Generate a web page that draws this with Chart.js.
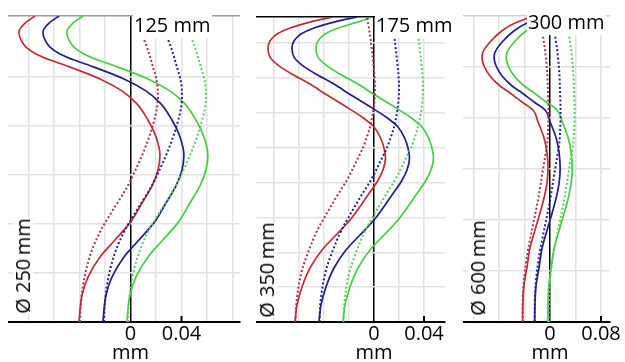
<!DOCTYPE html>
<html><head><meta charset="utf-8">
<script src="https://cdn.jsdelivr.net/npm/chart.js"></script>
<style>
html,body{margin:0;padding:0;background:#fff;}
#wrap{position:relative;width:625px;height:362px;overflow:hidden;background:#fff;font-family:'Open Sans',sans-serif;}
canvas{position:absolute;top:0;}
.lbl{position:absolute;background:#fff;color:#000;font-size:20px;line-height:20px;padding:1px 1px 3px 1px;white-space:nowrap;z-index:3;}
.vlbl{position:absolute;background:#fff;color:#000;font-size:20px;line-height:20px;white-space:nowrap;z-index:3;transform:translate(-50%,-50%) rotate(-90deg);}
</style></head>
<body><div id="wrap">
<canvas id="c1"></canvas><canvas id="c2"></canvas><canvas id="c3"></canvas>
<div class="lbl" id="t1"></div><div class="lbl" id="t2"></div><div class="lbl" id="t3"></div>
<div class="vlbl" id="v1"></div><div class="vlbl" id="v2"></div><div class="vlbl" id="v3"></div>
</div>
<script>
// ---------- data: [deviation (mm), height (mm)] ----------
const p1RedSolid   = [[-0.0749,125],[-0.0827,122.1],[-0.0875,118.5],[-0.0859,115.2],[-0.082,112.3],[-0.0741,109.5],[-0.0631,107],[-0.0498,104.6],[-0.0239,99.3],[-0.0067,94.4],[0.0051,89.1],[0.0137,82.5],[0.02,75.6],[0.0231,68.2],[0.0216,62.1],[0.0169,55.6],[0.009,48.6],[0,40.8],[-0.0122,33.5],[-0.0239,26.6],[-0.0333,18.4],[-0.038,11],[-0.0396,4.9],[-0.0404,0]];
const p1BlueSolid  = [[-0.0561,125],[-0.0639,122.1],[-0.0687,118.5],[-0.0671,115.2],[-0.0632,112.3],[-0.0553,109.5],[-0.0443,107],[-0.031,104.6],[-0.0051,99.3],[0.0121,94.4],[0.0239,89.1],[0.0325,82.5],[0.0388,75.6],[0.0419,68.2],[0.0404,62.1],[0.0357,55.6],[0.0278,48.6],[0.0188,40.8],[0.0066,33.5],[-0.0051,26.6],[-0.0145,18.4],[-0.0192,11],[-0.0208,4.9],[-0.0216,0]];
const p1GreenSolid = [[-0.0373,125],[-0.0451,122.1],[-0.0499,118.5],[-0.0483,115.2],[-0.0444,112.3],[-0.0365,109.5],[-0.0255,107],[-0.0122,104.6],[0.0137,99.3],[0.0309,94.4],[0.0427,89.1],[0.0513,82.5],[0.0576,75.6],[0.0607,68.2],[0.0592,62.1],[0.0545,55.6],[0.0466,48.6],[0.0376,40.8],[0.0254,33.5],[0.0137,26.6],[0.0043,18.4],[-0.0004,11],[-0.002,4.9],[-0.0028,0]];
const p1RedDot     = [[0.0075,125],[0.009,118.1],[0.0137,111.1],[0.0176,104.2],[0.0208,98],[0.0216,92.7],[0.0208,87.4],[0.0176,80.5],[0.0129,73.1],[0.0075,66.2],[-0.0027,55.1],[-0.0137,45.8],[-0.0231,37.6],[-0.0302,29.4],[-0.0349,21.2],[-0.038,12.3],[-0.0392,5.7],[-0.0396,0]];
const p1BlueDot    = [[0.0263,125],[0.0278,118.1],[0.0325,111.1],[0.0364,104.2],[0.0396,98],[0.0404,92.7],[0.0396,87.4],[0.0364,80.5],[0.0317,73.1],[0.0263,66.2],[0.0161,55.1],[0.0051,45.8],[-0.0043,37.6],[-0.0114,29.4],[-0.0161,21.2],[-0.0192,12.3],[-0.0204,5.7],[-0.0208,0]];
const p1GreenDot   = [[0.0451,125],[0.0466,118.1],[0.0513,111.1],[0.0552,104.2],[0.0584,98],[0.0592,92.7],[0.0584,87.4],[0.0552,80.5],[0.0505,73.1],[0.0451,66.2],[0.0349,55.1],[0.0239,45.8],[0.0145,37.6],[0.0074,29.4],[0.0027,21.2],[-0.0004,12.3],[-0.0016,5.7],[-0.002,0]];

const p2RedSolid   = [[-0.0328,175],[-0.0512,172.1],[-0.0672,168.7],[-0.0776,165.2],[-0.0832,161.2],[-0.0848,157.2],[-0.0832,152],[-0.0768,147.4],[-0.0672,142.9],[-0.0512,136.5],[-0.0376,130.2],[-0.0232,123.9],[-0.0096,117.6],[0,111.9],[0.0056,105],[0.008,99.8],[0.0092,94.1],[0.0072,87.2],[0.0024,80.3],[-0.0048,72.9],[-0.0192,58.5],[-0.0304,49.9],[-0.0416,41.3],[-0.0512,31],[-0.0576,20.1],[-0.0616,9.8],[-0.0632,0]];
const p2BlueSolid  = [[-0.0136,175],[-0.032,172.1],[-0.048,168.7],[-0.0584,165.2],[-0.064,161.2],[-0.0656,157.2],[-0.064,152],[-0.0576,147.4],[-0.048,142.9],[-0.032,136.5],[-0.0184,130.2],[-0.004,123.9],[0.0096,117.6],[0.0192,111.9],[0.0248,105],[0.0272,99.8],[0.0284,94.1],[0.0264,87.2],[0.0216,80.3],[0.0144,72.9],[0,58.5],[-0.0112,49.9],[-0.0224,41.3],[-0.032,31],[-0.0384,20.1],[-0.0424,9.8],[-0.044,0]];
const p2GreenSolid = [[-0.002,175],[-0.0128,172.1],[-0.0288,168.7],[-0.0392,165.2],[-0.0448,161.2],[-0.0464,157.2],[-0.0448,152],[-0.0384,147.4],[-0.0288,142.9],[-0.0128,136.5],[0.0008,130.2],[0.0152,123.9],[0.0288,117.6],[0.0384,111.9],[0.044,105],[0.0464,99.8],[0.0476,94.1],[0.0456,87.2],[0.0408,80.3],[0.0336,72.9],[0.0192,58.5],[0.008,49.9],[-0.0032,41.3],[-0.0128,31],[-0.0192,20.1],[-0.0232,9.8],[-0.0248,0]];
const p2RedDot     = [[-0.0056,175],[-0.0032,164.7],[-0.0008,150.3],[0.0008,134.8],[0,124.5],[-0.0032,111.9],[-0.008,101.5],[-0.0136,92.9],[-0.0216,81.5],[-0.0296,72.3],[-0.0376,62.5],[-0.0456,52.2],[-0.052,41.3],[-0.0576,29.8],[-0.0608,18.4],[-0.0624,8],[-0.0628,0]];
const p2BlueDot    = [[0.0136,175],[0.016,164.7],[0.0184,150.3],[0.02,134.8],[0.0192,124.5],[0.016,111.9],[0.0112,101.5],[0.0056,92.9],[-0.0024,81.5],[-0.0104,72.3],[-0.0184,62.5],[-0.0264,52.2],[-0.0328,41.3],[-0.0384,29.8],[-0.0416,18.4],[-0.0432,8],[-0.0436,0]];
const p2GreenDot   = [[0.0328,175],[0.0352,164.7],[0.0376,150.3],[0.0392,134.8],[0.0384,124.5],[0.0352,111.9],[0.0304,101.5],[0.0248,92.9],[0.0168,81.5],[0.0088,72.3],[0.0008,62.5],[-0.0072,52.2],[-0.0136,41.3],[-0.0192,29.8],[-0.0224,18.4],[-0.024,8],[-0.0244,0]];

const p3RedSolid   = [[-0.0267,300],[-0.0345,298],[-0.0549,293.1],[-0.0737,286.3],[-0.0941,274.5],[-0.1051,264.7],[-0.1067,258.8],[-0.1035,251],[-0.0941,241.2],[-0.0784,231.4],[-0.0627,224.5],[-0.0439,215.7],[-0.0267,207.8],[-0.0188,196.1],[-0.0094,180.4],[-0.0047,165.7],[-0.0031,151],[-0.0047,136.3],[-0.0094,121.6],[-0.0157,106.9],[-0.0235,90.2],[-0.0314,72.5],[-0.0361,53.9],[-0.0408,36.3],[-0.0424,21.6],[-0.0431,0]];
const p3BlueSolid  = [[-0.0077,300],[-0.0155,298],[-0.0359,293.1],[-0.0547,286.3],[-0.0751,274.5],[-0.0861,264.7],[-0.0877,258.8],[-0.0845,251],[-0.0751,241.2],[-0.0594,231.4],[-0.0437,224.5],[-0.0249,215.7],[-0.0077,207.8],[0.0002,196.1],[0.0096,180.4],[0.0143,165.7],[0.0159,151],[0.0143,136.3],[0.0096,121.6],[0.0033,106.9],[-0.0045,90.2],[-0.0124,72.5],[-0.0171,53.9],[-0.0218,36.3],[-0.0234,21.6],[-0.0241,0]];
const p3GreenSolid = [[0.0113,300],[0.0035,298],[-0.0169,293.1],[-0.0357,286.3],[-0.0561,274.5],[-0.0671,264.7],[-0.0687,258.8],[-0.0655,251],[-0.0561,241.2],[-0.0404,231.4],[-0.0247,224.5],[-0.0059,215.7],[0.0113,207.8],[0.0192,196.1],[0.0286,180.4],[0.0333,165.7],[0.0349,151],[0.0333,136.3],[0.0286,121.6],[0.0223,106.9],[0.0145,90.2],[0.0066,72.5],[0.0019,53.9],[-0.0018,36.3],[-0.0030,21.6],[-0.0036,0]];
const p3RedDot     = [[-0.011,300],[-0.011,283.3],[-0.0078,266.7],[-0.0047,247.1],[-0.0031,222.5],[-0.0024,207.8],[-0.0031,188.2],[-0.0047,173.5],[-0.0078,161.8],[-0.0125,144.1],[-0.0188,119.6],[-0.0267,95.1],[-0.0345,70.6],[-0.0392,51],[-0.0424,28.4],[-0.0431,0]];
const p3BlueDot    = [[0.008,300],[0.008,283.3],[0.0112,266.7],[0.0143,247.1],[0.0159,222.5],[0.0166,207.8],[0.0159,188.2],[0.0143,173.5],[0.0112,161.8],[0.0065,144.1],[0.0002,119.6],[-0.0077,95.1],[-0.0155,70.6],[-0.0202,51],[-0.0234,28.4],[-0.0241,0]];
const p3GreenDot   = [[0.03,300],[0.03,283.3],[0.0332,266.7],[0.0363,247.1],[0.0379,222.5],[0.0386,207.8],[0.0379,188.2],[0.0363,173.5],[0.0332,161.8],[0.0285,144.1],[0.0222,119.6],[0.0143,95.1],[0.0065,70.6],[0.0018,51],[-0.0014,28.4],[-0.0021,0]];

// tick labels / texts
const p1Ticks = [0, 0.04];
const p2Ticks = [0, 0.04];
const p3Ticks = [0, 0.08];
const unitText = 'mm';
const heightTexts = ['125 mm', '175 mm', '300 mm'];
const diameterTexts = ['Ø 250\u2009mm', 'Ø 350\u2009mm', 'Ø 600\u2009mm'];

// ---------- styling ----------
const COL = {red:'#c42b32', blue:'#1e1e8c', green:'#40d040', redDot:'#a33650', blueDot:'#23238c', greenDot:'#5ccc5c'};
const GRID = '#e2e2e2';
const EXTRA_RIGHT = 15;

const tickMark = {
  id:'tickMark',
  afterDraw(chart, args, opts){
    const xs = chart.scales.x, ctx = chart.ctx;
    ctx.save(); ctx.strokeStyle='#000'; ctx.lineWidth=2;
    (opts.values||[]).forEach(v=>{
      const px = xs.getPixelForValue(v);
      ctx.beginPath(); ctx.moveTo(px, xs.top); ctx.lineTo(px, xs.top-6); ctx.stroke();
    });
    ctx.restore();
  }
};

function series(pts, color, dotted){
  const sorted = pts.slice().sort((a,b)=>a[1]-b[1]);
  return {data: sorted.map(p=>({x:p[0], y:p[1]})), borderColor:color,
    borderWidth: dotted?2:1.7, borderDash: dotted?[2,2.2]:[], cubicInterpolationMode:'monotone',
    pointRadius:0, fill:false};
}

function makePanel(id, box, ax, sets, ticks){
  const cv = document.getElementById(id);
  cv.width = box.right - box.left + EXTRA_RIGHT; cv.height = 362;
  cv.style.left = box.left + 'px';
  const near = (a,b)=>Math.abs(a-b)<1e-9;
  new Chart(cv, {
    type:'line',
    data:{datasets: sets},
    options:{
      indexAxis:'y',
      responsive:false, animation:false, events:[],
      layout:{padding:{top:box.top, left:0, right:EXTRA_RIGHT, bottom:0}},
      plugins:{legend:{display:false}, tooltip:{enabled:false}, tickMark:{values:[ticks[1]]}},
      scales:{
        x:{type:'linear', min:ax.xMin, max:ax.xMax,
          afterFit:s=>{s.height = 362 - box.bottom; s.paddingLeft = 0; s.paddingRight = 0;},
          border:{display:true, color:'#000', width:2},
          grid:{drawTicks:false, lineWidth:1.5, color:c=>near(c.tick.value,0)?'#000':GRID},
          ticks:{stepSize:ax.xStep, includeBounds:false, autoSkip:false, maxRotation:0, minRotation:0, padding:3, color:'#000',
            font:{family:"'Open Sans', sans-serif", size:20, lineHeight:0.95},
            callback:(v)=>{ if(near(v,ticks[0])) return ['0', unitText]; if(near(v,ticks[1])) return String(ticks[1]); return ''; }}
        },
        y:{type:'linear', min:0, max:ax.yMax,
          afterFit:s=>{s.width = 0; s.paddingTop = 0; s.paddingBottom = 0;},
          border:{display:false},
          grid:{drawTicks:false, color:c=>near(c.tick.value,ax.yMax)?ax.topColor:GRID, lineWidth:1.5},
          ticks:{display:false, stepSize:ax.yStep}
        }
      }
    },
    plugins:[tickMark]
  });
}

makePanel('c1', {left:8, right:240, top:16, bottom:322},
  {xMin:-0.0961, xMax:0.0859, xStep:0.02, yMax:125, yStep:20, topColor:'#9c9c9c'},
  [series(p1RedDot,COL.redDot,true), series(p1BlueDot,COL.blueDot,true), series(p1GreenDot,COL.greenDot,true),
   series(p1RedSolid,COL.red,false), series(p1BlueSolid,COL.blue,false), series(p1GreenSolid,COL.green,false)], p1Ticks);
makePanel('c2', {left:256, right:445, top:17, bottom:322},
  {xMin:-0.0944, xMax:0.0568, xStep:0.02, yMax:175, yStep:20, topColor:'#000'},
  [series(p2RedDot,COL.redDot,true), series(p2BlueDot,COL.blueDot,true), series(p2GreenDot,COL.greenDot,true),
   series(p2RedSolid,COL.red,false), series(p2BlueSolid,COL.blue,false), series(p2GreenSolid,COL.green,false)], p2Ticks);
makePanel('c3', {left:463, right:610, top:16, bottom:322},
  {xMin:-0.1365, xMax:0.0941, xStep:0.04, yMax:300, yStep:50, topColor:'#cfcfcf'},
  [series(p3RedDot,COL.redDot,true), series(p3BlueDot,COL.blueDot,true), series(p3GreenDot,COL.greenDot,true),
   series(p3RedSolid,COL.red,false), series(p3BlueSolid,COL.blue,false), series(p3GreenSolid,COL.green,false)], p3Ticks);

// text labels
const tPos = [[133,14],[375,14],[527,11]];
const vPos = [[23,266],[267,270],[478,268]];
['t1','t2','t3'].forEach((id,i)=>{const e=document.getElementById(id); e.textContent=heightTexts[i]; e.style.left=tPos[i][0]+'px'; e.style.top=tPos[i][1]+'px';});
['v1','v2','v3'].forEach((id,i)=>{const e=document.getElementById(id); e.textContent=diameterTexts[i]; e.style.left=vPos[i][0]+'px'; e.style.top=vPos[i][1]+'px';});
</script>
</body></html>
